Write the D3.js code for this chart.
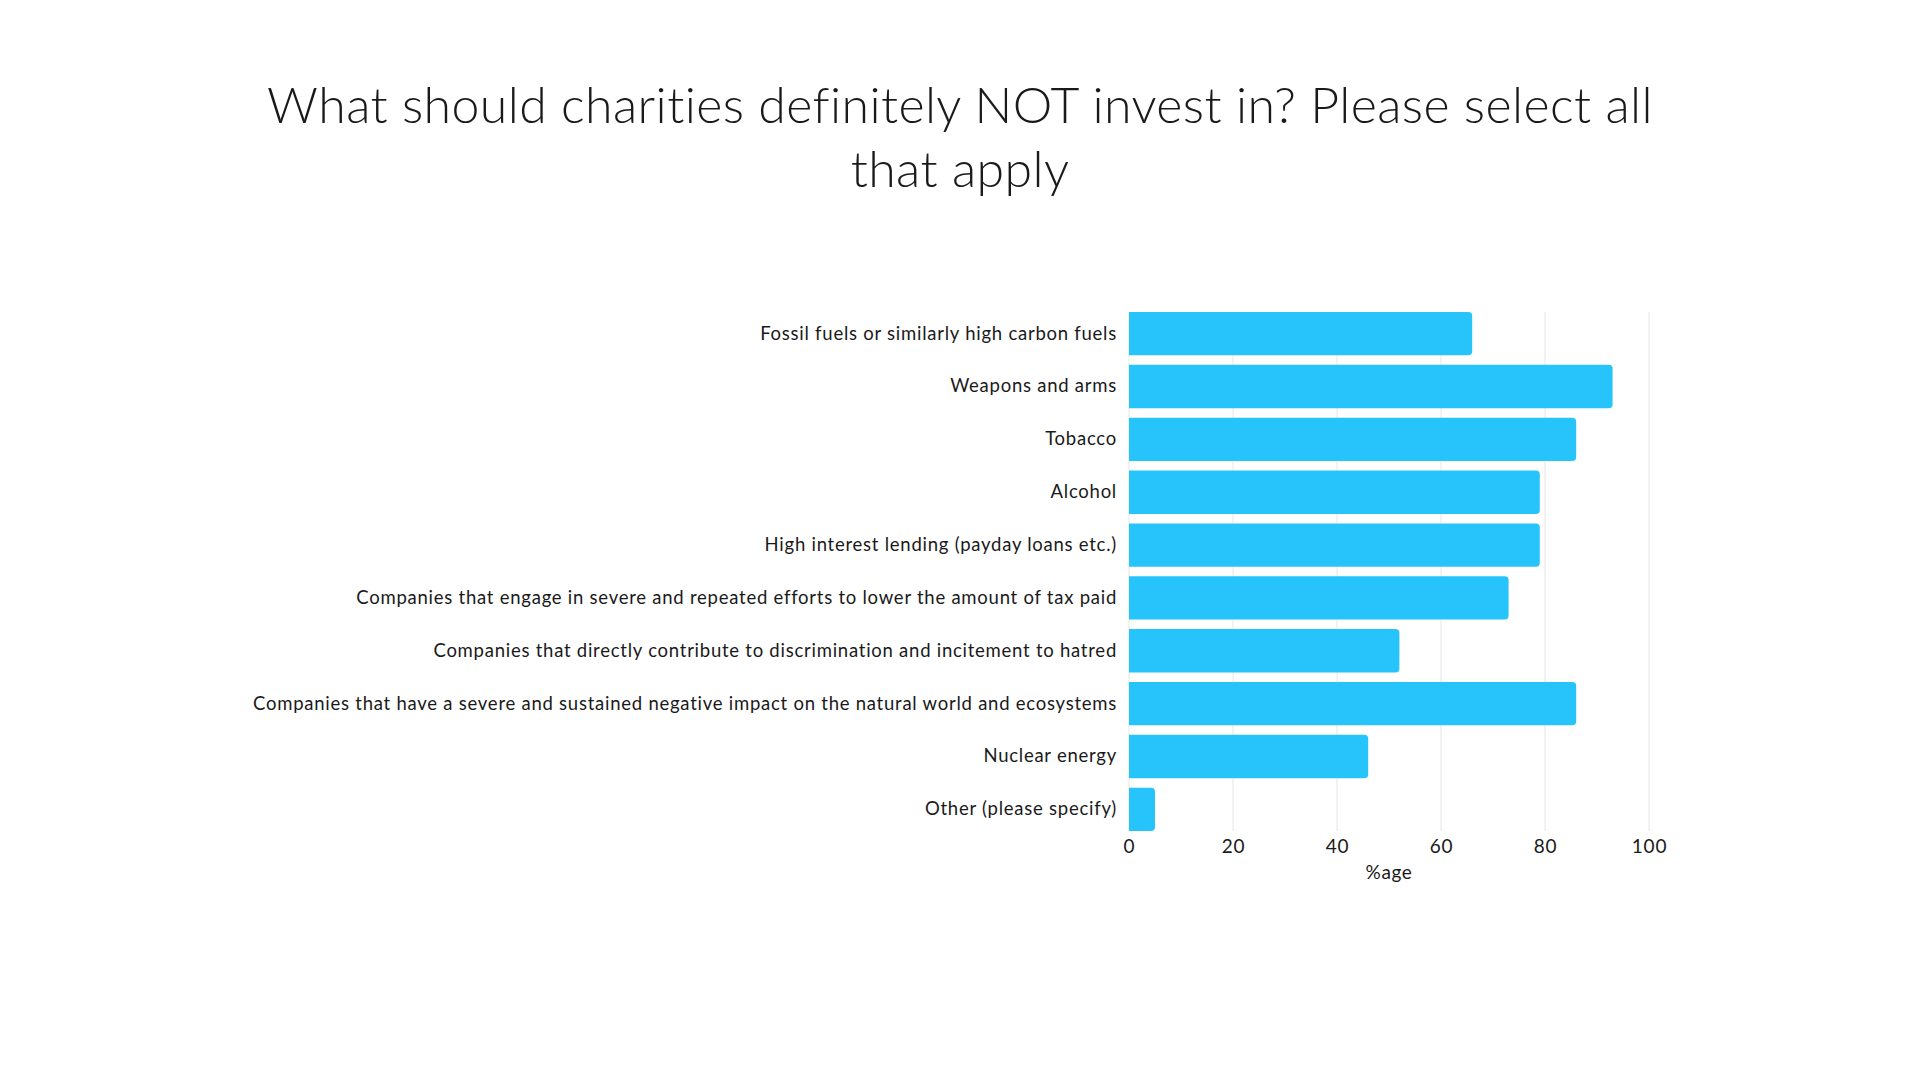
<!DOCTYPE html>
<html>
<head>
<meta charset="utf-8">
<script src="https://cdn.jsdelivr.net/npm/d3@7"></script>
<style>
  body { margin: 0; background: #fff; }
  svg text { font-family: Lato, "Open Sans", sans-serif; fill: #1a1a1a; }
</style>
</head>
<body>
<div id="chart"></div>
<script>
var categories = [
  "Fossil fuels or similarly high carbon fuels",
  "Weapons and arms",
  "Tobacco",
  "Alcohol",
  "High interest lending (payday loans etc.)",
  "Companies that engage in severe and repeated efforts to lower the amount of tax paid",
  "Companies that directly contribute to discrimination and incitement to hatred",
  "Companies that have a severe and sustained negative impact on the natural world and ecosystems",
  "Nuclear energy",
  "Other (please specify)"
];
var values = [66, 93, 86, 79, 79, 73, 52, 86, 46, 5];
var xTicks = [0, 20, 40, 60, 80, 100];
var titleLines = ["What should charities definitely NOT invest in? Please select all", "that apply"];
var xTitle = "%age";

var width = 1920, height = 1080;
var plotLeft = 1129, plotRight = 1649, plotTop = 312, plotBottom = 831;

var svg = d3.select("#chart").append("svg")
    .attr("width", width)
    .attr("height", height);

var x = d3.scaleLinear().domain([0, 100]).range([plotLeft, plotRight]);
var y = d3.scaleBand().domain(categories).range([plotTop, plotBottom])
    .paddingInner(0.18).paddingOuter(0);

// title
svg.append("text")
    .attr("text-anchor", "middle")
    .attr("font-size", 50)
    .attr("font-weight", 300)
    .attr("letter-spacing", 0.4)
    .selectAll("tspan")
    .data(titleLines)
    .enter().append("tspan")
    .attr("x", width / 2)
    .attr("y", function(d, i) { return 123 + i * 64; })
    .text(function(d) { return d; });

// grid
svg.append("g").selectAll("line")
    .data(xTicks)
    .enter().append("line")
    .attr("x1", function(d) { return x(d); })
    .attr("x2", function(d) { return x(d); })
    .attr("y1", plotTop)
    .attr("y2", plotBottom)
    .attr("stroke", "#e6e6e6")
    .attr("stroke-width", 1);

// bars, rounded only on the right end
var r = 4;
function barPath(d, i) {
  var x0 = x(0), x1 = x(d), y0 = y(categories[i]), h = y.bandwidth();
  return "M" + x0 + "," + y0 + "H" + (x1 - r) +
    "Q" + x1 + "," + y0 + " " + x1 + "," + (y0 + r) +
    "V" + (y0 + h - r) +
    "Q" + x1 + "," + (y0 + h) + " " + (x1 - r) + "," + (y0 + h) +
    "H" + x0 + "Z";
}
svg.append("g").selectAll("path")
    .data(values)
    .enter().append("path")
    .attr("d", barPath)
    .attr("fill", "#27c4fb");

// category labels
var yAxis = svg.append("g")
    .attr("transform", "translate(" + plotLeft + ",0)")
    .call(d3.axisLeft(y).tickSize(0).tickPadding(12));
yAxis.select(".domain").remove();
yAxis.selectAll("text")
    .attr("font-size", 18.5)
    .attr("letter-spacing", 0.75)
    .style("font-family", "Lato, sans-serif")
    .attr("fill", "#1a1a1a");

// x axis
var xAxis = svg.append("g")
    .attr("transform", "translate(0," + plotBottom + ")")
    .call(d3.axisBottom(x).tickValues(xTicks).tickSize(0).tickPadding(9));
xAxis.select(".domain").remove();
xAxis.selectAll("text")
    .attr("font-size", 19)
    .attr("letter-spacing", 0.8)
    .style("font-family", "Lato, sans-serif")
    .attr("fill", "#1a1a1a");

svg.append("text")
    .attr("x", (plotLeft + plotRight) / 2)
    .attr("y", 879)
    .attr("text-anchor", "middle")
    .attr("font-size", 19)
    .attr("letter-spacing", 0.6)
    .text(xTitle);
</script>
</body>
</html>
